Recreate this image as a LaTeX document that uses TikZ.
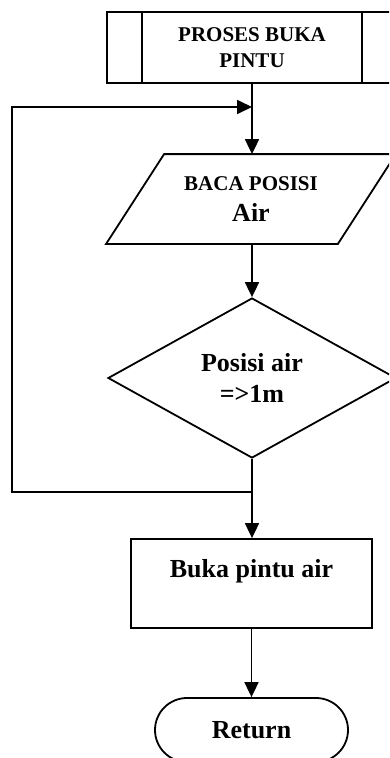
\documentclass[tikz,border=0pt]{standalone}
\usepackage{fontspec}
\setmainfont{Liberation Serif}
\usetikzlibrary{arrows.meta,calc,shapes.geometric,shapes.misc}

\tikzset{
	box/.style={draw, line width=1.8pt, inner sep=0pt, align=center, font=\fontsize{26}{31}\selectfont\bfseries},
	small/.style={font=\fontsize{21}{26}\selectfont\bfseries},
	flow/.style={line width=1.8pt, -{Triangle[length=15pt,width=14pt]}},
	edge/.style={line width=1.8pt}
}

\begin{document}
\begin{tikzpicture}[x=1pt,y=-1pt]
			%%%%% START %%%%%
			\useasboundingbox (0,0) rectangle (389,758);
			\clip (0,0) rectangle (389,758);
			
			\node[box, small, minimum width=290pt, minimum height=71pt] (proses) at (252,47.5) {PROSES BUKA\\PINTU};
			\draw[edge] ($(proses.north west)+(36,0)$) -- ($(proses.south west)+(36,0)$);
			\draw[edge] ($(proses.north east)+(-36,0)$) -- ($(proses.south east)+(-36,0)$);
			
			\node[box, draw=none, minimum width=288pt, minimum height=88pt] (baca) at (251,199) {{\fontsize{21}{26}\selectfont BACA POSISI}\\Air};
			\draw[edge] (baca.south west) -- ($(baca.south east)+(-58,0)$) -- (baca.north east) -- ($(baca.north west)+(58,0)$) -- cycle;
			
			\node[box, diamond, aspect=1.8, minimum width=288pt, minimum height=160pt] (cek) at (252,378) {Posisi air\\=>1m};
			
			\node[box, minimum width=241pt, minimum height=89pt] (buka) at (251.5,583.5) {Buka pintu air\\\mbox{}};
			
			\node[box, rounded rectangle, minimum width=193pt, minimum height=64pt] (ret) at (251.5,730) {Return};
			
			\coordinate (split) at (252,492);
			\coordinate (merge) at (252,107);
			\coordinate (loopl) at (12,107);
			
			\draw[flow] (proses.south) -- (proses.south |- baca.north);
			\draw[flow] (cek.north |- baca.south) -- (cek.north);
			\draw[flow] (cek.south) -- (cek.south |- buka.north);
			\draw[flow] (split) -| (loopl) -- (merge);
			\draw[flow] (buka.south) -- (buka.south |- ret.north);
			
			%%%%% END %%%%%
\end{tikzpicture}
\end{document}
